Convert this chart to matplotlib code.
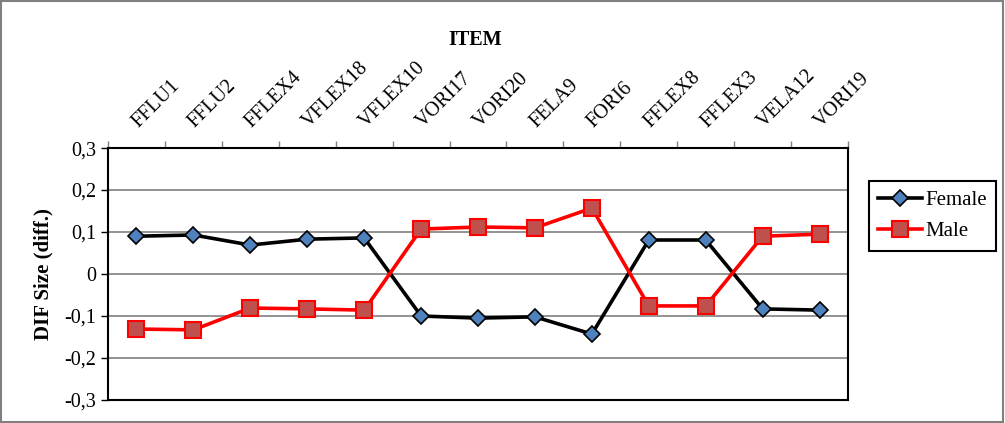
import matplotlib.pyplot as plt
import matplotlib.transforms as mtransforms
from matplotlib.ticker import FuncFormatter, FixedLocator
from matplotlib.patches import Rectangle

# data
items = ["FFLU1", "FFLU2", "FFLEX4", "VFLEX18", "VFLEX10", "VORI17", "VORI20",
         "FELA9", "FORI6", "FFLEX8", "FFLEX3", "VELA12", "VORI19"]
female = [0.090, 0.093, 0.069, 0.083, 0.086, -0.100, -0.105,
          -0.102, -0.143, 0.081, 0.081, -0.083, -0.086]
male = [-0.131, -0.133, -0.081, -0.083, -0.086, 0.107, 0.112,
        0.110, 0.157, -0.076, -0.076, 0.090, 0.095]

plt.rcParams['font.family'] = ['Liberation Serif', 'DejaVu Serif']

fig = plt.figure(figsize=(10.05, 4.23), dpi=100)
ax = fig.add_axes([0.1075, 0.0544, 0.7363, 0.5956])

x = list(range(len(items)))
ax.plot(x, female, color='black', lw=2.6, marker='D', ms=8,
        mfc='#4F81BD', mec='black', mew=1.2, label='Female', zorder=3)
ax.plot(x, male, color='red', lw=2.6, marker='s', ms=11,
        mfc='#C0504D', mec='red', mew=1.5, label='Male', zorder=3)

ax.set_xlim(-0.5, len(items) - 0.5)
ax.set_ylim(-0.3, 0.3)
ax.set_yticks([-0.3, -0.2, -0.1, 0, 0.1, 0.2, 0.3])
ax.yaxis.set_major_formatter(FuncFormatter(
    lambda v, p: '0' if abs(v) < 1e-9 else f'{v:.1f}'.replace('.', ',')))
ax.tick_params(axis='y', labelsize=14.5, length=5, direction='out', width=1)
ax.yaxis.grid(True, color='#808080', lw=1.2)
ax.set_axisbelow(True)

# category axis on top, ticks between categories, labels at centres
ax.xaxis.tick_top()
ax.xaxis.set_major_locator(FixedLocator([i - 0.5 for i in range(len(items) + 1)]))
ax.xaxis.set_minor_locator(FixedLocator(x))
ax.set_xticklabels([], minor=False)
ax.set_xticklabels(items, minor=True, rotation=45, ha='left', va='bottom',
                   rotation_mode='anchor', fontsize=14.5)
ax.tick_params(axis='x', which='major', length=5, direction='out', width=1, color='#808080')
ax.tick_params(axis='x', which='minor', length=0, pad=12)
shift = mtransforms.ScaledTranslation(0.05, 0, fig.dpi_scale_trans)
for lab in ax.get_xticklabels(minor=True):
    lab.set_transform(lab.get_transform() + shift)

for s in ax.spines.values():
    s.set_color('black')
    s.set_linewidth(1.5)

ax.set_ylabel('DIF Size (diff.)', fontsize=15, fontweight='bold', labelpad=8)
fig.text(0.473, 0.905, 'ITEM', fontsize=14.5, fontweight='bold', ha='center', va='center')

leg = ax.legend(loc='upper left', bbox_to_anchor=(1.014, 0.91), fontsize=15,
                frameon=True, fancybox=False, edgecolor='black', framealpha=1,
                handlelength=2.1, borderpad=0.45, labelspacing=0.55, handletextpad=0.15)
leg.get_frame().set_linewidth(1.5)

# outer chart border
fig.patches.append(Rectangle((0.001, 0.002), 0.997, 0.995, transform=fig.transFigure,
                             fill=False, edgecolor='#808080', lw=1.5))

fig.savefig('out.png', dpi=100)
